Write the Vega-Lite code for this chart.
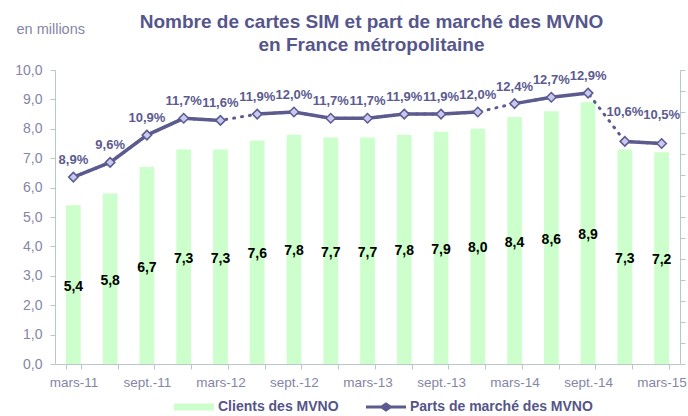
{
  "$schema": "https://vega.github.io/schema/vega-lite/v6.json",
  "width": 625,
  "height": 294,
  "padding": {"left": 14, "right": 3, "top": 13, "bottom": 0},
  "config": {
    "font": "Liberation Sans",
    "view": {"stroke": null},
    "locale": {"number": {"decimal": ",", "thousands": " ", "grouping": [3], "currency": ["", " €"]}}
  },
  "title": {
    "text": ["Nombre de cartes SIM et part de marché des MVNO", "en France métropolitaine"],
    "fontSize": 19,
    "fontWeight": "bold",
    "color": "#56568c",
    "lineHeight": 23,
    "anchor": "middle",
    "dx": 4,
    "offset": -34
  },
  "data": {
    "values": [
      {"q": "mars-11", "clients": 5.4, "part": 0.089, "segment": 1},
      {"q": "juin-11", "clients": 5.8, "part": 0.096, "segment": 1},
      {"q": "sept.-11", "clients": 6.7, "part": 0.109, "segment": 1},
      {"q": "déc.-11", "clients": 7.3, "part": 0.117, "segment": 1},
      {"q": "mars-12", "clients": 7.3, "part": 0.116, "segment": 1},
      {"q": "juin-12", "clients": 7.6, "part": 0.119, "segment": 2},
      {"q": "sept.-12", "clients": 7.8, "part": 0.120, "segment": 2},
      {"q": "déc.-12", "clients": 7.7, "part": 0.117, "segment": 2},
      {"q": "mars-13", "clients": 7.7, "part": 0.117, "segment": 2},
      {"q": "juin-13", "clients": 7.8, "part": 0.119, "segment": 2},
      {"q": "sept.-13", "clients": 7.9, "part": 0.119, "segment": 2},
      {"q": "déc.-13", "clients": 8.0, "part": 0.120, "segment": 2},
      {"q": "mars-14", "clients": 8.4, "part": 0.124, "segment": 3},
      {"q": "juin-14", "clients": 8.6, "part": 0.127, "segment": 3},
      {"q": "sept.-14", "clients": 8.9, "part": 0.129, "segment": 3},
      {"q": "déc.-14", "clients": 7.3, "part": 0.106, "segment": 4},
      {"q": "mars-15", "clients": 7.2, "part": 0.105, "segment": 4}
    ]
  },
  "encoding": {
    "x": {
      "field": "q",
      "type": "ordinal",
      "sort": null,
      "scale": {"paddingInner": 0.6, "paddingOuter": 0.3},
      "axis": {
        "title": null,
        "tickBand": "extent",
        "labelAngle": 0,
        "labelExpr": "test(/^(mars|sept)/, datum.label) ? datum.label : ''",
        "labelOverlap": false,
        "labelFontSize": 13.5,
        "labelColor": "#8585a5",
        "domainColor": "#b8c8c8",
        "tickColor": "#b8c8c8",
        "tickSize": 5,
        "labelPadding": 6,
        "grid": false
      }
    }
  },
  "layer": [
    {
      "mark": {"type": "bar"},
      "encoding": {
        "y": {
          "field": "clients",
          "type": "quantitative",
          "scale": {"domain": [0, 10]},
          "axis": {
            "orient": "left",
            "values": [0, 1, 2, 3, 4, 5, 6, 7, 8, 9, 10],
            "format": ".1f",
            "labelFontSize": 14,
            "labelColor": "#8585a5",
            "labelPadding": 8,
            "tickSize": 5,
            "domainColor": "#b8c8c8",
            "tickColor": "#b8c8c8",
            "grid": false,
            "title": "en millions",
            "titleAngle": 0,
            "titleAlign": "left",
            "titleBaseline": "middle",
            "titleX": -39,
            "titleY": -41,
            "titleFontSize": 14.5,
            "titleFontWeight": "normal",
            "titleColor": "#8585a5"
          }
        },
        "color": {
          "datum": "Clients des MVNO",
          "scale": {"domain": ["Clients des MVNO", "Parts de marché des MVNO"], "range": ["#ccffcc", "#5b5b8f"]},
          "legend": {
            "orient": "none",
            "legendX": 119,
            "legendY": 317,
            "direction": "horizontal",
            "title": null,
            "symbolType": "M-1,-0.17H1V0.17H-1Z",
            "symbolSize": 1600,
            "symbolStrokeWidth": 0,
            "labelFontSize": 14,
            "labelFontWeight": "bold",
            "labelColor": "#555588",
            "labelLimit": 0,
            "labelOffset": 4,
            "columnPadding": 27,
            "encode": {
              "symbols": {
                "update": {
                  "shape": {"signal": "datum.value == 'Clients des MVNO' ? 'M-1,-0.17H1V0.17H-1Z' : 'M-1,-0.08H-0.24L0,-0.24L0.24,-0.08H1V0.08H0.24L0,0.24L-0.24,0.08H-1Z'"},
                  "fill": {"signal": "datum.value == 'Clients des MVNO' ? '#ccffcc' : '#5b5b8f'"},
                  "stroke": {"value": "transparent"},
                  "strokeWidth": {"value": 0},
                  "opacity": {"value": 1},
                  "fillOpacity": {"value": 1},
                  "size": {"value": 1600}
                }
              }
            }
          }
        }
      }
    },
    {
      "mark": {"type": "text", "fontSize": 14, "fontWeight": "bold", "color": "#000000", "baseline": "middle", "dy": 2},
      "encoding": {
        "y": {"field": "clients", "type": "quantitative", "scale": {"domain": [0, 20]}, "axis": null},
        "text": {"field": "clients", "type": "quantitative", "format": ".1f"}
      }
    },
    {
      "encoding": {
        "y": {
          "field": "part",
          "type": "quantitative",
          "scale": {"domain": [0, 0.14]},
          "axis": {
            "orient": "right",
            "values": [0, 0.01, 0.02, 0.03, 0.04, 0.05, 0.06, 0.07, 0.08, 0.09, 0.1, 0.11, 0.12, 0.13, 0.14],
            "labels": false,
            "title": null,
            "tickSize": 5,
            "domainColor": "#b8c8c8",
            "tickColor": "#b8c8c8",
            "grid": false
          }
        }
      },
      "layer": [
        {
          "mark": {"type": "line", "color": "#5b5b8f", "strokeWidth": 3, "strokeDash": [1, 7], "strokeCap": "round"},
          "encoding": {"order": {"value": null}}
        },
        {
          "mark": {"type": "line", "strokeWidth": 3.5},
          "encoding": {
            "order": {"value": null},
            "detail": {"field": "segment", "type": "nominal"},
            "color": {"datum": "Parts de marché des MVNO"}
          }
        },
        {
          "mark": {"type": "point", "shape": "diamond", "filled": true, "fill": "#c8c8f0", "stroke": "#5b5b8f", "strokeWidth": 1.5, "size": 90, "opacity": 1},
          "encoding": {}
        },
        {
          "transform": [{"filter": "datum.segment < 4"}],
          "mark": {"type": "text", "fontSize": 13, "fontWeight": "bold", "color": "#5b5b8f", "baseline": "middle", "dy": -17},
          "encoding": {"text": {"field": "part", "type": "quantitative", "format": ".1%"}}
        },
        {
          "transform": [{"filter": "datum.segment == 4"}],
          "mark": {"type": "text", "fontSize": 13, "fontWeight": "bold", "color": "#5b5b8f", "baseline": "middle", "dy": -29},
          "encoding": {"text": {"field": "part", "type": "quantitative", "format": ".1%"}}
        }
      ]
    }
  ],
  "resolve": {"scale": {"y": "independent"}}
}
